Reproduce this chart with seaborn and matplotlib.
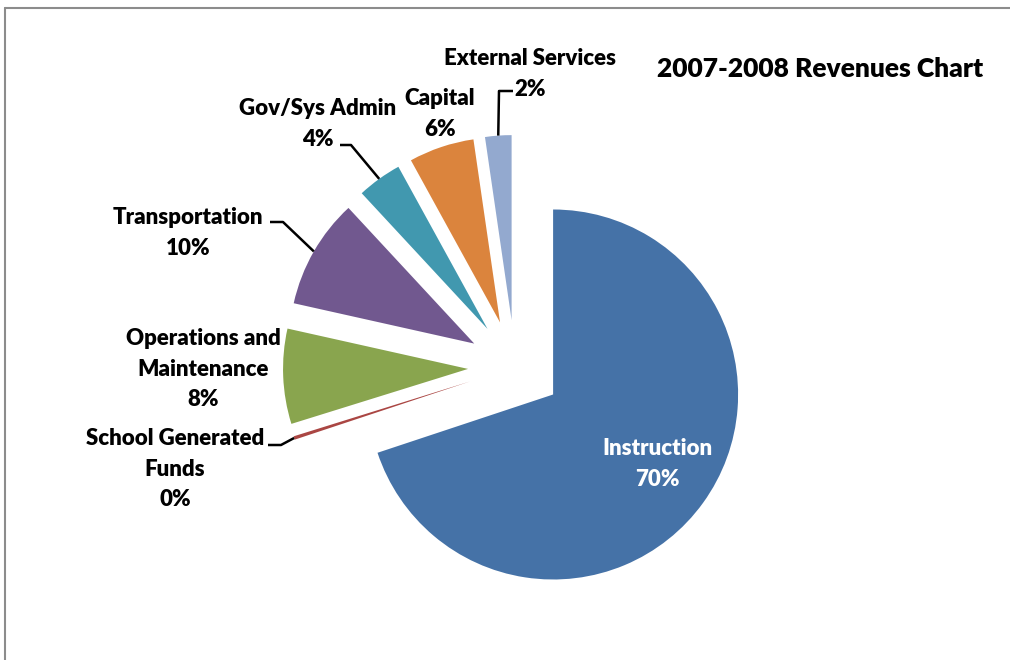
import numpy as np
import matplotlib.pyplot as plt
import seaborn as sns
from matplotlib.lines import Line2D

categories = ['Instruction', 'School Generated Funds', 'Operations and Maintenance',
              'Transportation', 'Gov/Sys Admin', 'Capital', 'External Services']
shares = [69.9, 0.3, 8.3, 9.6, 3.9, 5.7, 2.3]
pct_labels = ['70%', '0%', '8%', '10%', '4%', '6%', '2%']
slice_colors = ['#4572A7', '#AA4643', '#89A54E', '#71588F', '#4198AF', '#DB843D', '#93A9CF']

W, H = 1010, 660


def px(x, y):
    # image pixel (y down) -> axes coords (y up)
    return x, H - y


sns.set_theme(style="white")
plt.rcParams['font.family'] = ['Lato', 'DejaVu Sans']

fig = plt.figure(figsize=(W / 100, H / 100), dpi=100)
ax = fig.add_axes([0, 0, 1, 1])

radius = 185
cx, cy = px(515, 367)
explode = [0.254 * radius] * len(shares)

wedges, _ = ax.pie(shares, colors=sns.color_palette(slice_colors), startangle=90,
                   counterclock=False, radius=radius, center=(cx, cy), explode=explode,
                   wedgeprops=dict(linewidth=0, antialiased=True))

ax.set_xlim(0, W)
ax.set_ylim(0, H)
ax.set_aspect('equal')
ax.axis('off')


def arc_mid(w, frac=1.0):
    ang = np.deg2rad((w.theta1 + w.theta2) / 2)
    return w.center[0] + frac * w.r * np.cos(ang), w.center[1] + frac * w.r * np.sin(ang)


lab = dict(fontsize=16, fontweight='heavy', color='black', ha='center', va='center',
           linespacing=1.55)

# label text with category name and share, position (image px)
outer = {
    1: ('School Generated\nFunds', (175, 469)),
    2: ('Operations and\nMaintenance', (203, 369)),
    3: ('Transportation', (188, 233)),
    4: ('Gov/Sys Admin', (318, 124)),
    5: ('Capital', (440, 114)),
    6: ('External Services', (530, 74)),
}
for i, (name, (x, y)) in outer.items():
    ax.text(*px(x, y), name + '\n' + pct_labels[i], **lab)

# leader lines: start, elbow (image px), end at arc midpoint
leaders = {
    1: [(268, 445), (281, 445)],
    3: [(270, 222), (283, 222)],
    4: [(340, 145), (351, 145)],
    6: [(513, 91), (499, 91)],
}
for i, pts in leaders.items():
    ex, ey = arc_mid(wedges[i])
    xs = [px(*p)[0] for p in pts] + [ex]
    ys = [px(*p)[1] for p in pts] + [ey]
    ax.plot(xs, ys, color='black', lw=1.8, solid_capstyle='butt')

ix, iy = arc_mid(wedges[0], 0.67)
ax.text(ix + 4, iy + 3, categories[0] + '\n' + pct_labels[0], fontsize=16,
        fontweight='heavy', color='white', ha='center', va='center', linespacing=1.55)

ax.text(*px(820, 69), '2007-2008 Revenues Chart', fontsize=19, fontweight='heavy',
        color='black', ha='center', va='center')

# chart frame
fig.add_artist(Line2D([5 / W, 1], [1 - 8 / H, 1 - 8 / H], color='#8c8c8c', lw=1.5,
                      transform=fig.transFigure))
fig.add_artist(Line2D([5 / W, 5 / W], [0, 1 - 8 / H], color='#8c8c8c', lw=1.5,
                      transform=fig.transFigure))

fig.savefig('out.png', dpi=100)
